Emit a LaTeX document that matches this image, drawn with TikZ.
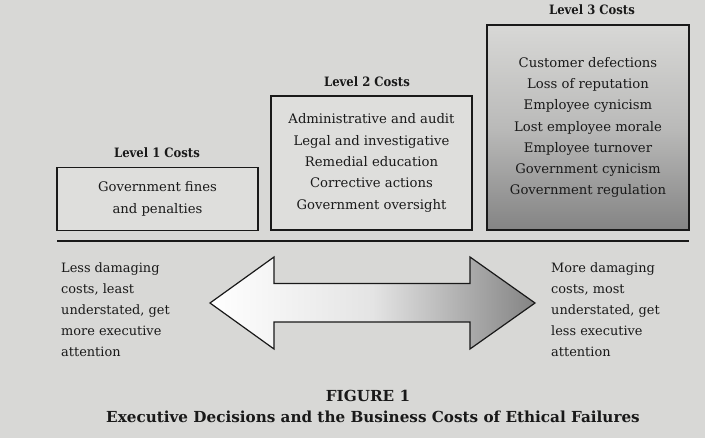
\documentclass[tikz,border=0pt]{standalone}
\usepackage{fontspec}
\setmainfont{DejaVu Serif}
\newfontfamily\titlefont{DejaVu Serif Condensed}
\usetikzlibrary{shadings}
\definecolor{pagebg}{RGB}{216,216,214}
\definecolor{boxbg}{RGB}{222,222,220}
\definecolor{inkc}{RGB}{25,25,25}
\definecolor{lvltop}{RGB}{216,216,214}
\definecolor{lvlmid}{RGB}{186,186,185}
\definecolor{lvlbot}{RGB}{132,132,132}
\definecolor{arrowr}{RGB}{132,132,132}
\tikzset{
  costbox/.style={draw=inkc, line width=1.4pt, fill=boxbg, align=center, inner sep=0pt,
    font=\fontsize{13.2}{21.3}\selectfont, text=inkc},
  lvltitle/.style={font=\titlefont\bfseries\fontsize{12.9}{14}\selectfont, text=inkc, inner sep=0pt},
  sidetext/.style={align=left, inner sep=0pt, font=\fontsize{12.9}{21}\selectfont, text=inkc},
  captext/.style={font=\bfseries\fontsize{15.2}{21}\selectfont, text=inkc, inner sep=0pt}
}
\begin{document}
\begin{tikzpicture}[x=1pt,y=-1pt]
\fill[pagebg] (0,0) rectangle (705,438);
\useasboundingbox (0,0) rectangle (705,438);
% Level 1
\node[costbox, minimum width=201pt, minimum height=63pt] (b1) at (157.5,199)
  {Government fines\\and penalties};
\node[lvltitle] (t1) at (157,153) {Level 1 Costs};
% Level 2
\node[costbox, minimum width=201pt, minimum height=134pt] (b2) at (371.5,163)
  {Administrative and audit\\Legal and investigative\\Remedial education\\Corrective actions\\Government oversight};
\node[lvltitle] (t2) at (367,82) {Level 2 Costs};
% Level 3
\shade[top color=lvltop, bottom color=lvlbot, middle color=lvlmid] (487,25) rectangle (689,230);
\node[costbox, fill=none, minimum width=202pt, minimum height=205pt] (b3) at (588,127.5)
  {Customer defections\\Loss of reputation\\Employee cynicism\\Lost employee morale\\Employee turnover\\Government cynicism\\Government regulation};
\node[lvltitle] (t3) at (592,10) {Level 3 Costs};
% rule
\coordinate (r1) at (57,241);
\coordinate (r2) at (689,241);
\draw[inkc, line width=1.3pt] (r1) -- (r2);
% double arrow
\path[left color=white, right color=arrowr, middle color=white!78!arrowr, draw=inkc, line width=1.2pt, line join=miter]
  (210,303) -- (274,257) -- (274,283.5) -- (470,283.5) -- (470,257) -- (535,303)
  -- (470,349) -- (470,322) -- (274,322) -- (274,349) -- cycle;
% side texts
\node[sidetext, anchor=west] (lt) at (61,310)
  {Less damaging\\costs, least\\understated, get\\more executive\\attention};
\node[sidetext, anchor=west] (rt) at (551,310)
  {More damaging\\costs, most\\understated, get\\less executive\\attention};
% caption
\node[captext] (fig) at (368,396) {FIGURE 1};
\node[captext] (cap) at (373,417) {Executive Decisions and the Business Costs of Ethical Failures};
\end{tikzpicture}
\end{document}
